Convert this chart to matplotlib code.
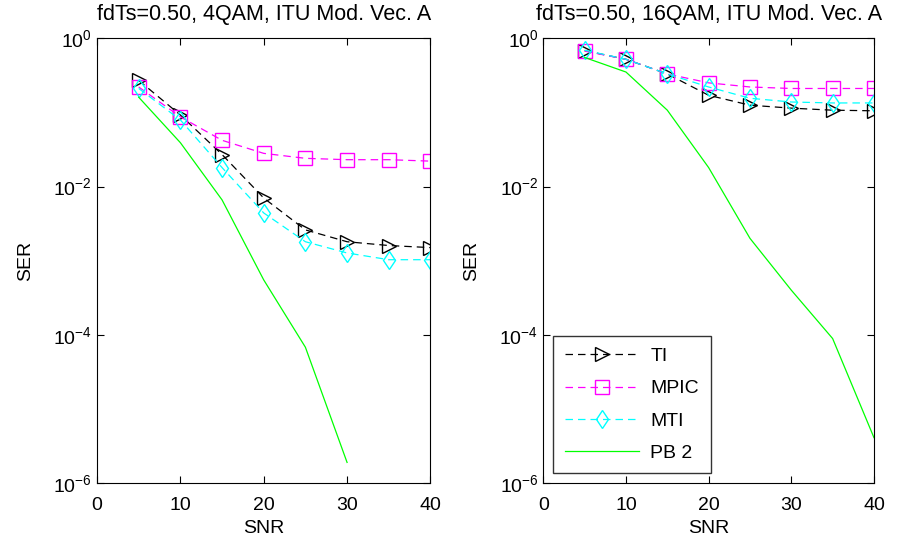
import numpy as np
import matplotlib
matplotlib.use("Agg")
import matplotlib.pyplot as plt

plt.rcParams['font.family'] = ['Liberation Sans', 'DejaVu Sans']

snr = [5, 10, 15, 20, 25, 30, 35, 40]

# left panel: 4QAM
ti_4 = [0.27, 0.092, 0.027, 0.007, 0.0026, 0.0018, 0.0016, 0.0015]
mpic_4 = [0.22, 0.087, 0.042, 0.028, 0.024, 0.023, 0.023, 0.022]
mti_4 = [0.21, 0.079, 0.018, 0.0044, 0.0018, 0.00127, 0.00103, 0.00103]
snr_pb_4 = [5, 10, 15, 20, 25, 30]
pb_4 = [0.16, 0.039, 0.0066, 5.5e-4, 6.8e-5, 1.9e-6]

# right panel: 16QAM
ti_16 = [0.68, 0.52, 0.33, 0.17, 0.125, 0.114, 0.107, 0.105]
mpic_16 = [0.67, 0.52, 0.33, 0.25, 0.22, 0.21, 0.21, 0.21]
mti_16 = [0.69, 0.52, 0.33, 0.22, 0.155, 0.138, 0.134, 0.134]
snr_pb_16 = [5, 10, 15, 20, 25, 30, 35, 40]
pb_16 = [0.55, 0.35, 0.107, 0.018, 0.002, 4e-4, 8.9e-5, 4.1e-6]

titles = ['fdTs=0.50, 4QAM, ITU Mod. Vec. A', 'fdTs=0.50, 16QAM, ITU Mod. Vec. A']

fig = plt.figure(figsize=(9.01, 5.54), dpi=100)
ax1 = fig.add_axes([0.1077, 0.128, 0.370, 0.803])
ax2 = fig.add_axes([0.603, 0.128, 0.367, 0.803])

panels = [(ax1, ti_4, mpic_4, mti_4, snr_pb_4, pb_4),
          (ax2, ti_16, mpic_16, mti_16, snr_pb_16, pb_16)]

fs = 14
ms = 9.5
for i, (ax, ti, mpic, mti, xpb, pb) in enumerate(panels):
    ax.semilogy(snr, ti, color='black', linestyle='--', dashes=(6, 4), marker='>',
                markersize=ms, markerfacecolor='none', linewidth=0.9, label='TI')
    ax.semilogy(snr, mpic, color='#ff00ff', linestyle='--', dashes=(6, 4), marker='s',
                markersize=ms, markerfacecolor='none', linewidth=0.9, label='MPIC')
    ax.semilogy(snr, mti, color='#00ffff', linestyle='--', dashes=(6, 4), marker='d',
                markersize=ms, markerfacecolor='none', linewidth=0.9, label='MTI')
    ax.semilogy(xpb, pb, color='#00ff00', linestyle='-', linewidth=0.9, label='PB 2')
    ax.set_xlim(0, 40)
    ax.set_ylim(1e-6, 1)
    ax.set_xticks([0, 10, 20, 30, 40])
    ax.set_yticks([1e-6, 1e-4, 1e-2, 1])
    ax.yaxis.set_minor_locator(matplotlib.ticker.NullLocator())
    ax.tick_params(direction='in', top=True, right=True, labelsize=fs, length=5)
    ax.tick_params(axis='x', pad=10)
    ax.set_xlabel('SNR', fontsize=fs, labelpad=4)
    ax.set_ylabel('SER', fontsize=fs, labelpad=14)
    ax.set_title(titles[i], fontsize=15.5, pad=13)

ax2.legend(loc='lower left', fontsize=fs, frameon=True, fancybox=False,
           edgecolor='black', handlelength=3.8, borderpad=0.6, labelspacing=0.75,
           handletextpad=0.6)

fig.savefig('out.png', dpi=100)
